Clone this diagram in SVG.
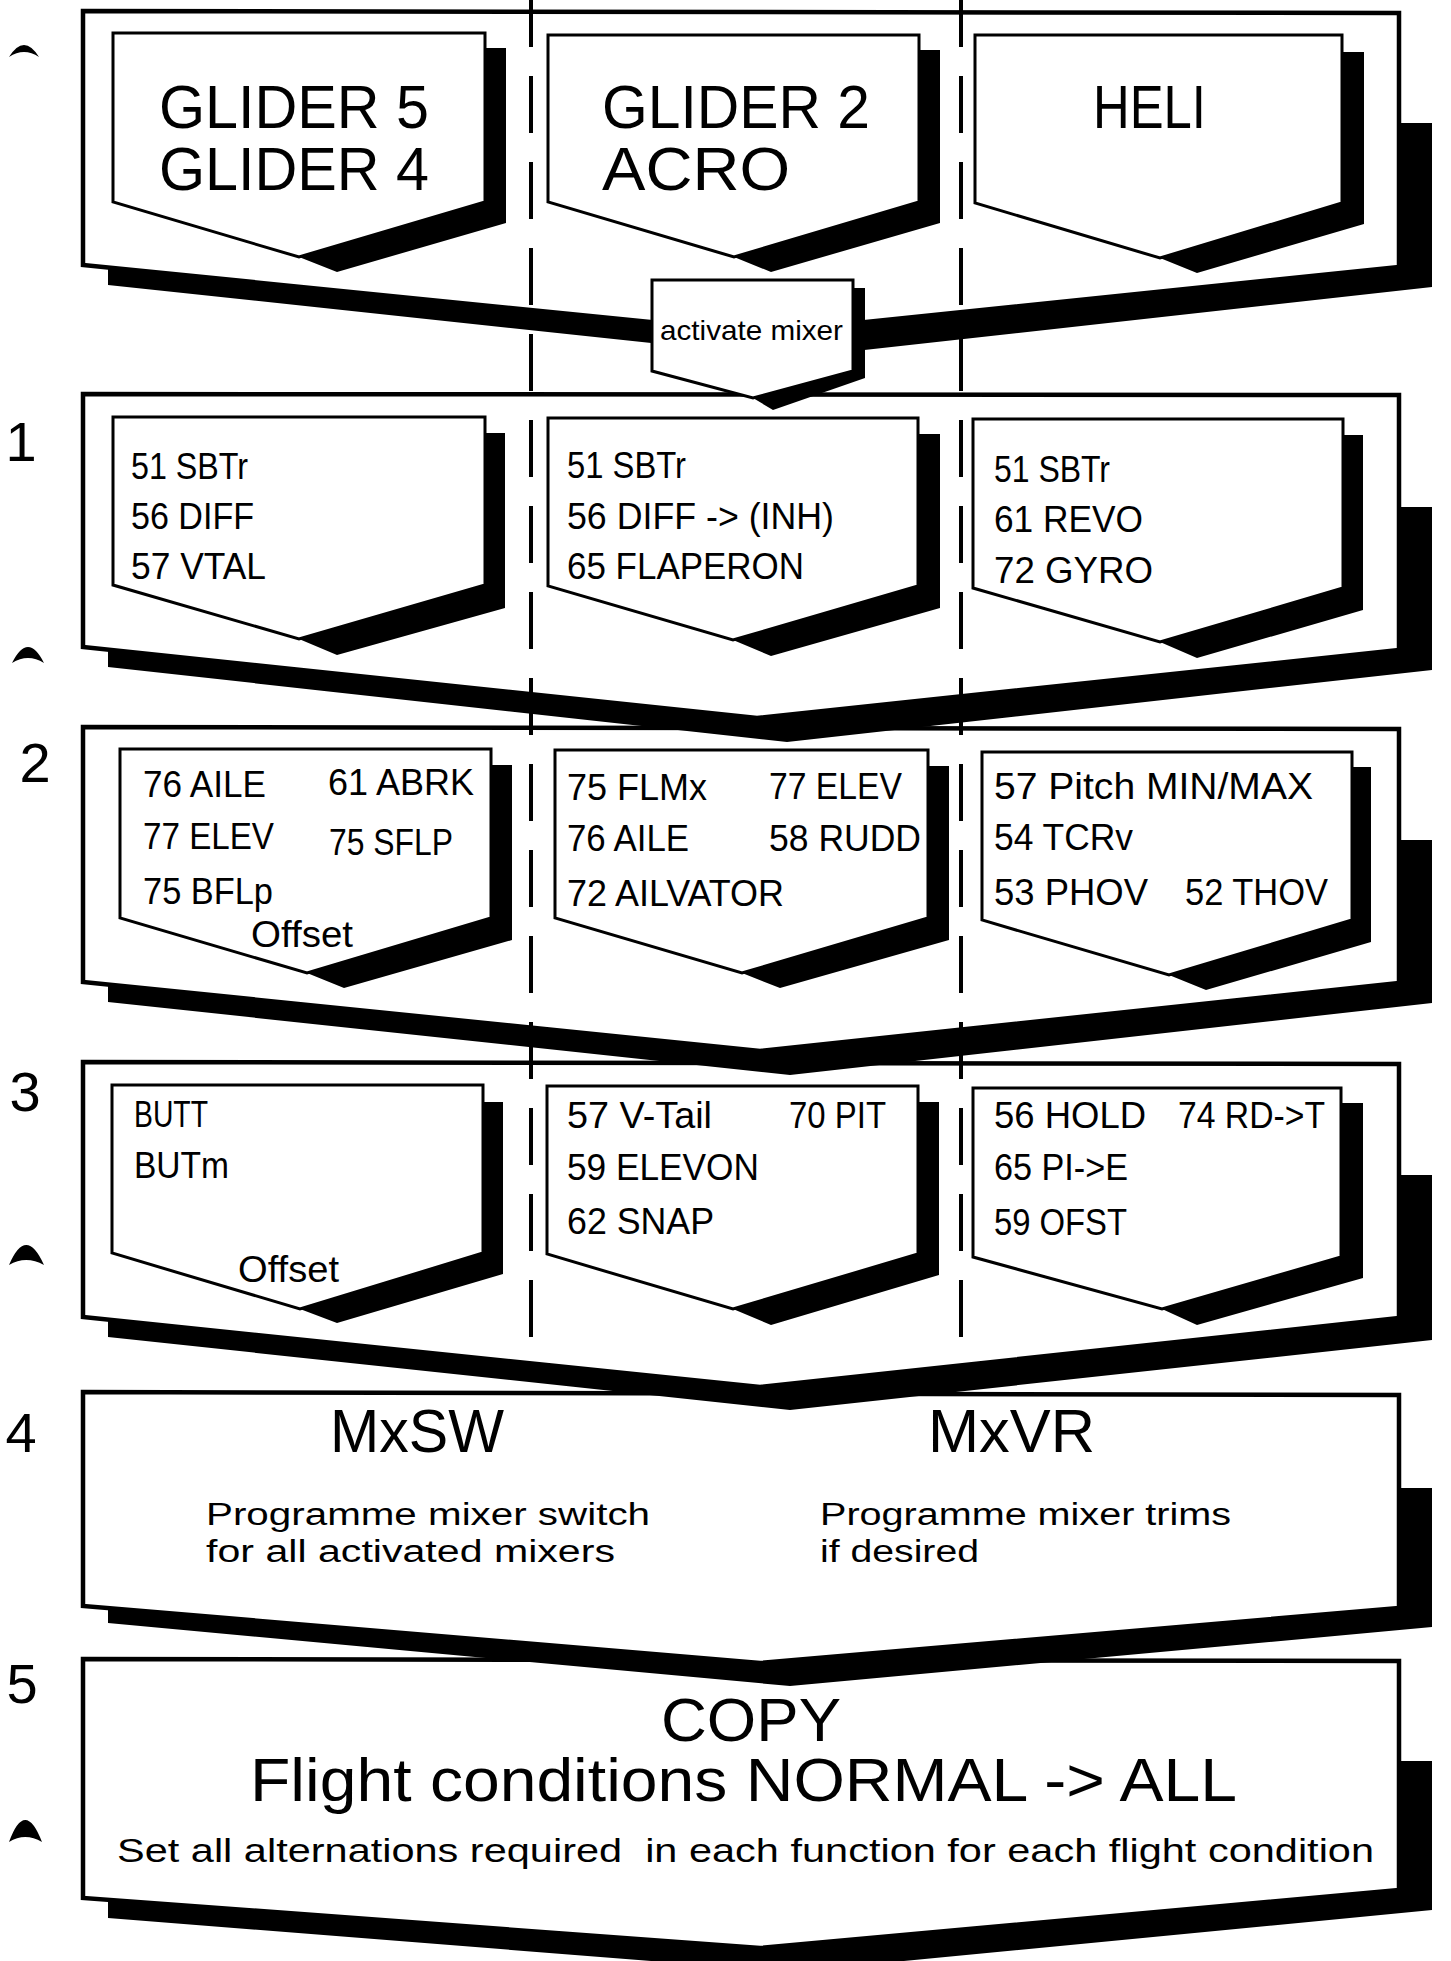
<svg xmlns="http://www.w3.org/2000/svg" width="1451" height="1961" viewBox="0 0 1451 1961">
<style>
.bg{fill:#fff}
.sh{fill:#000}
.outer{fill:#fff;stroke:#000;stroke-width:4.5;stroke-linejoin:miter}
.box{fill:#fff;stroke:#000;stroke-width:3;stroke-linejoin:miter}
.dash{stroke:#000;stroke-width:4;stroke-dasharray:57 29;fill:none}
text{font-family:"Liberation Sans",Arial,sans-serif;fill:#000}
.lbl{font-size:36px}
.hd{font-size:62px}
.mx{font-size:61px}
.pg{font-size:31px}
.cp{font-size:62px}
.sa{font-size:33px}
.num{font-size:56px;text-anchor:middle}
.am{font-size:28px}
.mark{fill:#000}
</style>
<rect class="bg" x="0" y="0" width="1451" height="1961"/>

<g id="marks">
<path class="mark" d="M9,57 Q24,33 39,57 Q24,47 9,57 Z"/>
<path class="mark" d="M12,663 Q28,631 44,663 Q28,653 12,663 Z"/>
<path class="mark" d="M9,1265 Q26,1225 44,1265 Q26,1255 9,1265 Z"/>
<path class="mark" d="M9,1842 Q25,1798 42,1842 Q25,1832 9,1842 Z"/>
</g>

<g id="step-numbers">
<text class="num" x="21" y="461">1</text>
<text class="num" x="35" y="782">2</text>
<text class="num" x="25" y="1111">3</text>
<text class="num" x="21" y="1452">4</text>
<text class="num" x="22" y="1703">5</text>
</g>

<g id="panel5">
<polygon class="sh" points="1397,1761 1432,1761 1432,1910 790,1972 108,1918 108,1900 760,1948 1397,1890"/>
<polygon class="outer" points="83,1659 1399,1661 1399,1890 760,1948 83,1898"/>
<text class="cp" x="661" y="1741" textLength="180" lengthAdjust="spacingAndGlyphs">COPY</text>
<text class="cp" x="250" y="1801" textLength="987" lengthAdjust="spacingAndGlyphs">Flight conditions NORMAL -&gt; ALL</text>
<text class="sa" x="117" y="1862" textLength="1257" lengthAdjust="spacingAndGlyphs" xml:space="preserve">Set all alternations required  in each function for each flight condition</text>
</g>

<g id="panel4">
<polygon class="sh" points="1397,1488 1432,1488 1432,1627 790,1686 108,1623 108,1607 760,1663 1397,1608"/>
<polygon class="outer" points="83,1392 1399,1395 1399,1608 760,1663 83,1606"/>
<text class="mx" x="330" y="1452" textLength="174" lengthAdjust="spacingAndGlyphs">MxSW</text>
<text class="mx" x="928" y="1452" textLength="167" lengthAdjust="spacingAndGlyphs">MxVR</text>
<text class="pg" x="206" y="1525" textLength="444" lengthAdjust="spacingAndGlyphs">Programme mixer switch</text>
<text class="pg" x="206" y="1562" textLength="409" lengthAdjust="spacingAndGlyphs">for all activated mixers</text>
<text class="pg" x="820" y="1525" textLength="411" lengthAdjust="spacingAndGlyphs">Programme mixer trims</text>
<text class="pg" x="820" y="1562" textLength="159" lengthAdjust="spacingAndGlyphs">if desired</text>
</g>

<g id="panel3">
<polygon class="sh" points="1397,1175 1432,1175 1432,1340 790,1410 108,1337 108,1318 760,1387 1397,1318"/>
<polygon class="outer" points="83,1062 1399,1064 1399,1318 760,1387 83,1317"/>
</g>
<g id="p3-glider54">
<polygon class="sh" points="481,1102 503,1102 503,1274 337,1323 300,1309 483,1253"/>
<polygon class="box" points="112,1085 483,1085 483,1253 300,1309 112,1253"/>
<text class="lbl" x="134" y="1127" textLength="74" lengthAdjust="spacingAndGlyphs">BUTT</text>
<text class="lbl" x="134" y="1178" textLength="95" lengthAdjust="spacingAndGlyphs">BUTm</text>
<text class="lbl" x="238" y="1282" textLength="101" lengthAdjust="spacingAndGlyphs">Offset</text>
</g>
<g id="p3-glider2acro">
<polygon class="sh" points="916,1102 939,1102 939,1275 771,1325 733,1309 918,1254"/>
<polygon class="box" points="547,1086 918,1086 918,1254 733,1309 547,1254"/>
<text class="lbl" x="567" y="1128" textLength="145" lengthAdjust="spacingAndGlyphs">57 V-Tail</text>
<text class="lbl" x="789" y="1128" textLength="97" lengthAdjust="spacingAndGlyphs">70 PIT</text>
<text class="lbl" x="567" y="1180" textLength="192" lengthAdjust="spacingAndGlyphs">59 ELEVON</text>
<text class="lbl" x="567" y="1234" textLength="147" lengthAdjust="spacingAndGlyphs">62 SNAP</text>
</g>
<g id="p3-heli">
<polygon class="sh" points="1339,1103 1363,1103 1363,1278 1197,1325 1162,1309 1341,1257"/>
<polygon class="box" points="973,1088 1341,1088 1341,1257 1162,1309 973,1257"/>
<text class="lbl" x="994" y="1128" textLength="152" lengthAdjust="spacingAndGlyphs">56 HOLD</text>
<text class="lbl" x="1178" y="1128" textLength="147" lengthAdjust="spacingAndGlyphs">74 RD-&gt;T</text>
<text class="lbl" x="994" y="1180" textLength="134" lengthAdjust="spacingAndGlyphs">65 PI-&gt;E</text>
<text class="lbl" x="994" y="1235" textLength="133" lengthAdjust="spacingAndGlyphs">59 OFST</text>
</g>

<g id="panel2">
<polygon class="sh" points="1397,840 1432,840 1432,1003 790,1075 108,1002 108,983 760,1051 1397,983"/>
<polygon class="outer" points="83,727 1399,729 1399,983 760,1051 83,982"/>
</g>
<g id="p2-glider54">
<polygon class="sh" points="489,765 512,765 512,940 344,988 307,973 491,918"/>
<polygon class="box" points="120,749 491,749 491,918 307,973 120,918"/>
<text class="lbl" x="143" y="797" textLength="123" lengthAdjust="spacingAndGlyphs">76 AILE</text>
<text class="lbl" x="328" y="795" textLength="146" lengthAdjust="spacingAndGlyphs">61 ABRK</text>
<text class="lbl" x="143" y="849" textLength="131" lengthAdjust="spacingAndGlyphs">77 ELEV</text>
<text class="lbl" x="329" y="855" textLength="124" lengthAdjust="spacingAndGlyphs">75 SFLP</text>
<text class="lbl" x="143" y="904" textLength="130" lengthAdjust="spacingAndGlyphs">75 BFLp</text>
<text class="lbl" x="251" y="947" textLength="102" lengthAdjust="spacingAndGlyphs">Offset</text>
</g>
<g id="p2-glider2acro">
<polygon class="sh" points="926,766 949,766 949,940 780,988 742,973 928,918"/>
<polygon class="box" points="555,750 928,750 928,918 742,973 555,918"/>
<text class="lbl" x="567" y="800" textLength="140" lengthAdjust="spacingAndGlyphs">75 FLMx</text>
<text class="lbl" x="769" y="799" textLength="133" lengthAdjust="spacingAndGlyphs">77 ELEV</text>
<text class="lbl" x="567" y="851" textLength="122" lengthAdjust="spacingAndGlyphs">76 AILE</text>
<text class="lbl" x="769" y="851" textLength="152" lengthAdjust="spacingAndGlyphs">58 RUDD</text>
<text class="lbl" x="567" y="906" textLength="217" lengthAdjust="spacingAndGlyphs">72 AILVATOR</text>
</g>
<g id="p2-heli">
<polygon class="sh" points="1350,767 1371,767 1371,942 1206,990 1169,975 1352,920"/>
<polygon class="box" points="982,752 1352,752 1352,920 1169,975 982,920"/>
<text class="lbl" x="994" y="799" textLength="319" lengthAdjust="spacingAndGlyphs">57 Pitch MIN/MAX</text>
<text class="lbl" x="994" y="850" textLength="139" lengthAdjust="spacingAndGlyphs">54 TCRv</text>
<text class="lbl" x="994" y="905" textLength="154" lengthAdjust="spacingAndGlyphs">53 PHOV</text>
<text class="lbl" x="1185" y="905" textLength="143" lengthAdjust="spacingAndGlyphs">52 THOV</text>
</g>

<g id="panel1">
<polygon class="sh" points="1397,507 1432,507 1432,670 787,742 108,667 108,648 757,718 1397,650"/>
<polygon class="outer" points="83,394 1399,395 1399,650 757,718 83,647"/>
</g>
<g id="p1-glider54">
<polygon class="sh" points="483,433 505,433 505,608 337,655 299,639 485,585"/>
<polygon class="box" points="113,417 485,417 485,585 299,639 113,585"/>
<text class="lbl" x="131" y="479" textLength="117" lengthAdjust="spacingAndGlyphs">51 SBTr</text>
<text class="lbl" x="131" y="529" textLength="123" lengthAdjust="spacingAndGlyphs">56 DIFF</text>
<text class="lbl" x="131" y="579" textLength="135" lengthAdjust="spacingAndGlyphs">57 VTAL</text>
</g>
<g id="p1-glider2acro">
<polygon class="sh" points="916,434 940,434 940,608 771,656 733,640 918,586"/>
<polygon class="box" points="548,418 918,418 918,586 733,640 548,586"/>
<text class="lbl" x="567" y="478" textLength="119" lengthAdjust="spacingAndGlyphs">51 SBTr</text>
<text class="lbl" x="567" y="529" textLength="267" lengthAdjust="spacingAndGlyphs">56 DIFF -&gt; (INH)</text>
<text class="lbl" x="567" y="579" textLength="237" lengthAdjust="spacingAndGlyphs">65 FLAPERON</text>
</g>
<g id="p1-heli">
<polygon class="sh" points="1341,435 1363,435 1363,610 1197,658 1160,642 1343,588"/>
<polygon class="box" points="973,419 1343,419 1343,588 1160,642 973,588"/>
<text class="lbl" x="994" y="482" textLength="116" lengthAdjust="spacingAndGlyphs">51 SBTr</text>
<text class="lbl" x="994" y="532" textLength="149" lengthAdjust="spacingAndGlyphs">61 REVO</text>
<text class="lbl" x="994" y="583" textLength="159" lengthAdjust="spacingAndGlyphs">72 GYRO</text>
</g>

<g id="panel0">
<polygon class="sh" points="1397,123 1432,123 1432,287 792,358 108,285 108,266 760,333 1397,267"/>
<polygon class="outer" points="83,11 1399,13 1399,267 760,333 83,265"/>
</g>
<g id="p0-glider54">
<polygon class="sh" points="483,48 506,48 506,223 337,272 299,257 485,202"/>
<polygon class="box" points="113,33 485,33 485,202 299,257 113,202"/>
<text class="hd" x="159" y="128" textLength="270" lengthAdjust="spacingAndGlyphs">GLIDER 5</text>
<text class="hd" x="159" y="190" textLength="270" lengthAdjust="spacingAndGlyphs">GLIDER 4</text>
</g>
<g id="p0-glider2acro">
<polygon class="sh" points="917,50 940,50 940,223 771,272 734,257 919,202"/>
<polygon class="box" points="548,35 919,35 919,202 734,257 548,202"/>
<text class="hd" x="602" y="128" textLength="268" lengthAdjust="spacingAndGlyphs">GLIDER 2</text>
<text class="hd" x="602" y="190" textLength="188" lengthAdjust="spacingAndGlyphs">ACRO</text>
</g>
<g id="p0-heli">
<polygon class="sh" points="1340,52 1364,52 1364,224 1197,273 1160,258 1342,203"/>
<polygon class="box" points="975,35 1342,35 1342,203 1160,258 975,203"/>
<text class="hd" x="1093" y="128" textLength="113" lengthAdjust="spacingAndGlyphs">HELI</text>
</g>

<g id="activate-mixer">
<polygon class="sh" points="851,288 865,288 865,378 773,410 753,398 853,371"/>
<polygon class="box" points="652,280 853,280 853,371 753,398 652,371"/>
<text class="am" x="660" y="340" textLength="183" lengthAdjust="spacingAndGlyphs">activate mixer</text>
</g>

<g id="connectors">
<line class="dash" x1="531" y1="-10" x2="531" y2="1342"/>
<line class="dash" x1="961" y1="-10" x2="961" y2="1342"/>
</g>
</svg>
